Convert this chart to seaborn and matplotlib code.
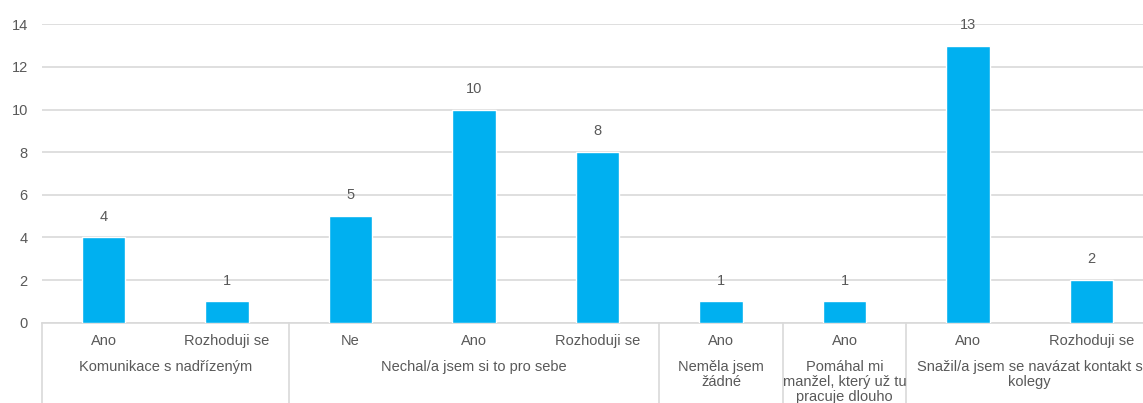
import numpy as np
import pandas as pd
import seaborn as sns
from matplotlib import pyplot as plt

# odpovedi a pocty
skupiny = ["Komunikace s nadřízeným",
           "Nechal/a jsem si to pro sebe",
           "Neměla jsem\nžádné",
           "Pomáhal mi\nmanžel, který už tu\npracuje dlouho",
           "Snažil/a jsem se navázat kontakt s\nkolegy"]
velikosti_skupin = [2, 3, 1, 1, 2]
odpovedi = ["Ano", "Rozhoduji se", "Ne", "Ano", "Rozhoduji se",
            "Ano", "Ano", "Ano", "Rozhoduji se"]
pocty = [4, 1, 5, 10, 8, 1, 1, 13, 2]

df = pd.DataFrame({"pozice": range(len(odpovedi)), "pocet": pocty})

sns.set_style("white")
plt.rcParams['font.family'] = ['Liberation Sans', 'DejaVu Sans']
seda = "#595959"
mrizka = "#D9D9D9"

fig = plt.figure(figsize=(11.43, 4.03), dpi=100)
ax = fig.add_axes([41.75 / 1143, 0.199, 9 * 123.5 / 1143, 0.741])

sns.barplot(data=df, x="pozice", y="pocet", color="#00B0F0", saturation=1,
            width=0.35, ax=ax, zorder=3)

ax.set_xlim(-0.5, len(odpovedi) - 0.5)
ax.set_ylim(0, 14)
ax.set_yticks(np.arange(0, 15, 2))
ax.grid(axis="y", color=mrizka, linewidth=1.2, zorder=0)
ax.set_axisbelow(True)
for s in ["left", "right", "top"]:
    ax.spines[s].set_visible(False)
ax.spines["bottom"].set_color(mrizka)
ax.spines["bottom"].set_linewidth(1.2)

ax.set_xticks(range(len(odpovedi)))
ax.set_xticklabels(odpovedi)
ax.tick_params(axis="x", length=0, pad=8, labelsize=10.5, labelcolor=seda)
ax.tick_params(axis="y", length=0, pad=10, labelsize=10.5, labelcolor=seda)
ax.set_xlabel("")
ax.set_ylabel("")

ax.bar_label(ax.containers[0], padding=10, fontsize=10.5, color=seda)

# popisky skupin a svisle oddelovace
hranice = np.concatenate([[0], np.cumsum(velikosti_skupin)]) - 0.5
trans = ax.get_xaxis_transform()
for i, nazev in enumerate(skupiny):
    stred = (hranice[i] + hranice[i + 1]) / 2
    ax.annotate(nazev, xy=(stred, 0), xycoords=trans, xytext=(0, -37),
                textcoords="offset pixels", ha="center", va="top",
                fontsize=10.5, color=seda, linespacing=1.1,
                annotation_clip=False)
for h in hranice:
    ax.plot([h, h], [0, -0.4], transform=trans, color=mrizka,
            linewidth=1.2, clip_on=False)

fig.savefig("out.png", dpi=100)
